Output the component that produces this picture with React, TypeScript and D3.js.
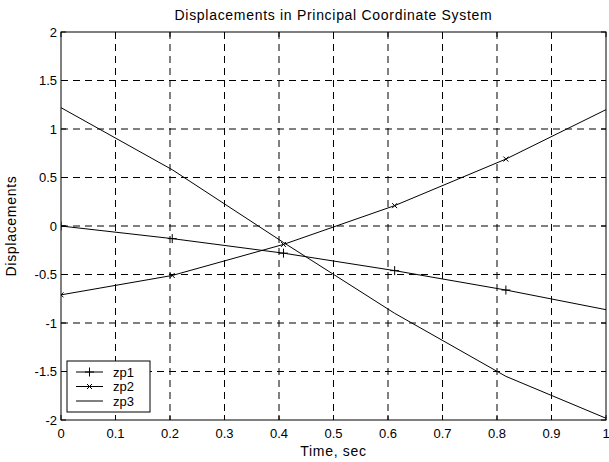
import React from 'react';
import * as d3 from 'd3';

// sample times (last one lies past the axis limit and is clipped)
const times = [0, 0.2041, 0.4082, 0.6122, 0.8163, 1.0204];
const zp1 = [0, -0.13, -0.28, -0.46, -0.66, -0.885];
const zp2 = [-0.71, -0.51, -0.19, 0.21, 0.69, 1.256];
const zp3 = [1.22, 0.58, -0.17, -0.9, -1.55, -2.03];
const xTicks = [0, 0.1, 0.2, 0.3, 0.4, 0.5, 0.6, 0.7, 0.8, 0.9, 1];
const yTicks = [-2, -1.5, -1, -0.5, 0, 0.5, 1, 1.5, 2];
const seriesNames = ['zp1', 'zp2', 'zp3'];

const W = 609;
const H = 462;
const margin = { top: 32, right: 3, bottom: 42, left: 61 };
const FONT = 'Arial, "Liberation Sans", Helvetica, sans-serif';

function Marker({ kind, x, y }: { kind: string; x: number; y: number }) {
    if (kind === 'plus') {
        return (
            <path d={`M${x - 4.5},${y}H${x + 4.5}M${x},${y - 4.5}V${y + 4.5}`} stroke="#000" strokeWidth={1} fill="none" />
        );
    }
    if (kind === 'cross') {
        return (
            <path d={`M${x - 2.5},${y - 2.5}L${x + 2.5},${y + 2.5}M${x - 2.5},${y + 2.5}L${x + 2.5},${y - 2.5}`} stroke="#000" strokeWidth={1} fill="none" />
        );
    }
    return null;
}

export default function App() {
    const innerW = W - margin.left - margin.right;
    const innerH = H - margin.top - margin.bottom;
    const x = d3.scaleLinear().domain([0, 1]).range([0, innerW]);
    const y = d3.scaleLinear().domain([-2, 2]).range([innerH, 0]);

    const series = [
        { name: seriesNames[0], values: zp1, marker: 'plus' },
        { name: seriesNames[1], values: zp2, marker: 'cross' },
        { name: seriesNames[2], values: zp3, marker: 'none' },
    ];

    const line = d3.line<number>()
        .x((_, i) => x(times[i]))
        .y(d => y(d));

    const fmt = (v: number) => String(+v.toFixed(2));

    // legend box
    const lg = { x: 6, y: innerH - 59, w: 83, h: 51 };
    const rowH = 14.5;

    return (
        <svg width={W} height={H} style={{ position: 'absolute', left: 0, top: 0, background: '#fff' }} fontFamily={FONT}>
            <defs>
                <clipPath id="plot-clip">
                    <rect x={0} y={0} width={innerW} height={innerH} />
                </clipPath>
            </defs>
            <text x={margin.left + innerW / 2} y={20} textAnchor="middle" fontSize={14} letterSpacing={0.7}>
                Displacements in Principal Coordinate System
            </text>
            <g transform={`translate(${margin.left},${margin.top})`}>
                {/* grid */}
                {xTicks.slice(1, -1).map(t => (
                    <line key={'gx' + t} x1={x(t)} x2={x(t)} y1={0} y2={innerH} stroke="#000" strokeWidth={1} strokeDasharray="7,5" />
                ))}
                {yTicks.slice(1, -1).map(t => (
                    <line key={'gy' + t} x1={0} x2={innerW} y1={y(t)} y2={y(t)} stroke="#000" strokeWidth={1} strokeDasharray="7,5" />
                ))}
                {/* ticks, inward */}
                {xTicks.map(t => (
                    <g key={'tx' + t}>
                        <line x1={x(t)} x2={x(t)} y1={innerH} y2={innerH - 5} stroke="#000" />
                        <line x1={x(t)} x2={x(t)} y1={0} y2={5} stroke="#000" />
                        <text x={x(t)} y={innerH + 18} textAnchor="middle" fontSize={13}>{fmt(t)}</text>
                    </g>
                ))}
                {yTicks.map(t => (
                    <g key={'ty' + t}>
                        <line x1={0} x2={5} y1={y(t)} y2={y(t)} stroke="#000" />
                        <line x1={innerW} x2={innerW - 5} y1={y(t)} y2={y(t)} stroke="#000" />
                        <text x={-4} y={y(t) + 4.5} textAnchor="end" fontSize={13}>{fmt(t)}</text>
                    </g>
                ))}
                {/* data */}
                <g clipPath="url(#plot-clip)">
                    {series.map(s => (
                        <g key={s.name}>
                            <path d={line(s.values) || ''} fill="none" stroke="#000" strokeWidth={1} />
                            {s.values.map((v, i) => (
                                <Marker key={i} kind={s.marker} x={x(times[i])} y={y(v)} />
                            ))}
                        </g>
                    ))}
                </g>
                {/* frame */}
                <rect x={0} y={0} width={innerW} height={innerH} fill="none" stroke="#000" strokeWidth={1} />
                {/* legend */}
                <g transform={`translate(${lg.x},${lg.y})`}>
                    <rect x={0} y={0} width={lg.w} height={lg.h} fill="#fff" stroke="#000" strokeWidth={1} />
                    {series.map((s, i) => {
                        const cy = 11 + i * rowH;
                        return (
                            <g key={s.name}>
                                <line x1={9} x2={36} y1={cy} y2={cy} stroke="#000" />
                                <Marker kind={s.marker} x={22.5} y={cy} />
                                <text x={46} y={cy + 4.5} fontSize={13}>{s.name}</text>
                            </g>
                        );
                    })}
                </g>
            </g>
            <text x={margin.left + innerW / 2} y={H - 6} textAnchor="middle" fontSize={14} letterSpacing={0.7}>Time, sec</text>
            <text transform={`translate(16,${margin.top + innerH / 2}) rotate(-90)`} textAnchor="middle" fontSize={14} letterSpacing={0.7}>
                Displacements
            </text>
        </svg>
    );
}
